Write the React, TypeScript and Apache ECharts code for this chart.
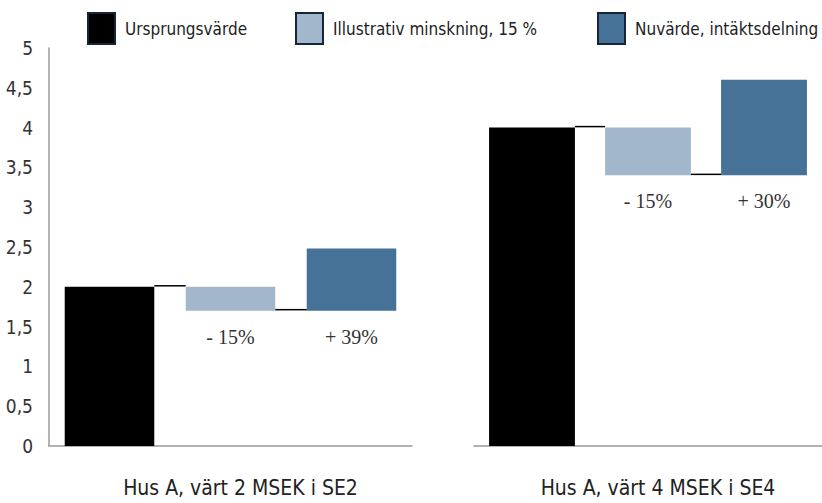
import React, { useEffect, useRef } from "react";
import * as echarts from "echarts";

const groups = ["Hus A, värt 2 MSEK i SE2", "Hus A, värt 4 MSEK i SE4"];
const seriesNames = ["Ursprungsvärde", "Illustrativ minskning, 15 %", "Nuvärde, intäktsdelning"];
const originalValues = [2, 4];
const reducedValues = [1.7, 3.4];
const presentValues = [2.48, 4.6];
const reductionLabels = ["- 15%", "- 15%"];
const increaseLabels = ["+ 39%", "+ 30%"];
const steps = ["Ursprung", "Minskning", "Nuvärde"];
const yMin = 0;
const yMax = 5;
const yInterval = 0.5;

const colors = ["#000000", "#A2B7CB", "#467298"];
const legendLefts = [87, 295, 597];
const SANS = "'DejaVu Sans Condensed', 'Liberation Sans Narrow', 'Roboto Condensed', 'Liberation Sans', sans-serif";
const SERIF = "'Liberation Serif', 'DejaVu Serif', serif";
const BAR_RATIO = 0.74;

export default function App() {
  const ref = useRef<HTMLDivElement>(null);
  useEffect(() => {
    document.body.style.margin = "0";
    if (!ref.current) return;
    const chart = echarts.init(ref.current, undefined, { renderer: "svg" });

    const grids = [
      { left: 49, right: 410, top: 48, bottom: 56 },
      { left: 474, right: 0, top: 48, bottom: 55 },
    ];

    const xAxis: any[] = [];
    const yAxis: any[] = [];
    const series: any[] = [];

    groups.forEach((g, i) => {
      xAxis.push({
        type: "category",
        gridIndex: i,
        data: steps,
        axisLine: { lineStyle: { color: "#999999", width: 1.5 } },
        axisTick: { show: false },
        axisLabel: { show: false },
        name: g,
        nameLocation: "middle",
        nameGap: 31,
        nameTextStyle: {
          fontFamily: SANS,
          fontSize: 21,
          color: "#222222",
          padding: [0, 0, 0, 20],
        },
      });
      yAxis.push({
        type: "value",
        gridIndex: i,
        min: yMin,
        max: yMax,
        interval: yInterval,
        show: i === 0,
        axisLine: { show: true, lineStyle: { color: "#999999", width: 1.5 } },
        axisTick: { show: false },
        splitLine: { show: false },
        axisLabel: {
          margin: 16,
          fontFamily: SANS,
          fontSize: 19,
          color: "#333333",
          formatter: (v: number) => String(v).replace(".", ","),
        },
      });
      const stack = "s" + i;
      const orig = originalValues[i];
      const red = reducedValues[i];
      const pres = presentValues[i];
      series.push({
        type: "bar",
        name: "_base" + i,
        xAxisIndex: i,
        yAxisIndex: i,
        stack,
        barWidth: BAR_RATIO * 100 + "%",
        silent: true,
        itemStyle: { color: "transparent" },
        data: [0, red, red],
      });
      series.push({
        type: "bar",
        name: seriesNames[0],
        xAxisIndex: i,
        yAxisIndex: i,
        stack,
        barWidth: BAR_RATIO * 100 + "%",
        itemStyle: { color: colors[0] },
        data: [orig, "-", "-"],
      });
      series.push({
        type: "bar",
        name: seriesNames[1],
        xAxisIndex: i,
        yAxisIndex: i,
        stack,
        barWidth: BAR_RATIO * 100 + "%",
        itemStyle: { color: colors[1] },
        label: {
          show: true,
          position: "bottom",
          distance: 16,
          formatter: () => reductionLabels[i],
          fontFamily: SERIF,
          fontSize: 20,
          color: "#333333",
        },
        data: ["-", orig - red, "-"],
      });
      series.push({
        type: "bar",
        name: seriesNames[2],
        xAxisIndex: i,
        yAxisIndex: i,
        stack,
        barWidth: BAR_RATIO * 100 + "%",
        itemStyle: { color: colors[2] },
        label: {
          show: true,
          position: "bottom",
          distance: 16,
          formatter: () => increaseLabels[i],
          fontFamily: SERIF,
          fontSize: 20,
          color: "#333333",
        },
        data: ["-", "-", pres - red],
      });
      series.push({
        type: "custom",
        name: "_conn" + i,
        xAxisIndex: i,
        yAxisIndex: i,
        silent: true,
        z: 5,
        data: [
          [0, orig],
          [1, red],
        ],
        renderItem: (params: any, api: any) => {
          const p = api.coord([api.value(0), api.value(1)]);
          const w = api.size([1, 0])[0];
          const bw = w * BAR_RATIO;
          return {
            type: "line",
            shape: { x1: p[0] + bw / 2, y1: p[1] - 1, x2: p[0] + w - bw / 2, y2: p[1] - 1 },
            style: { stroke: "#000000", lineWidth: 1.5 },
          };
        },
      });
    });

    const legend = seriesNames.map((n, k) => ({
      data: [n],
      left: legendLefts[k],
      top: 12,
      padding: 0,
      itemWidth: 27,
      itemHeight: 31,
      icon: "rect",
      itemStyle: { borderColor: "#16263a", borderWidth: 2 },
      textStyle: {
        fontFamily: SANS,
        fontSize: 17,
        color: "#222222",
        padding: [0, 0, 0, 5],
      },
    }));

    chart.setOption({
      animation: false,
      backgroundColor: "#ffffff",
      grid: grids,
      legend,
      xAxis,
      yAxis,
      series,
    });
    return () => chart.dispose();
  }, []);
  return <div ref={ref} style={{ width: 822, height: 503 }} />;
}
